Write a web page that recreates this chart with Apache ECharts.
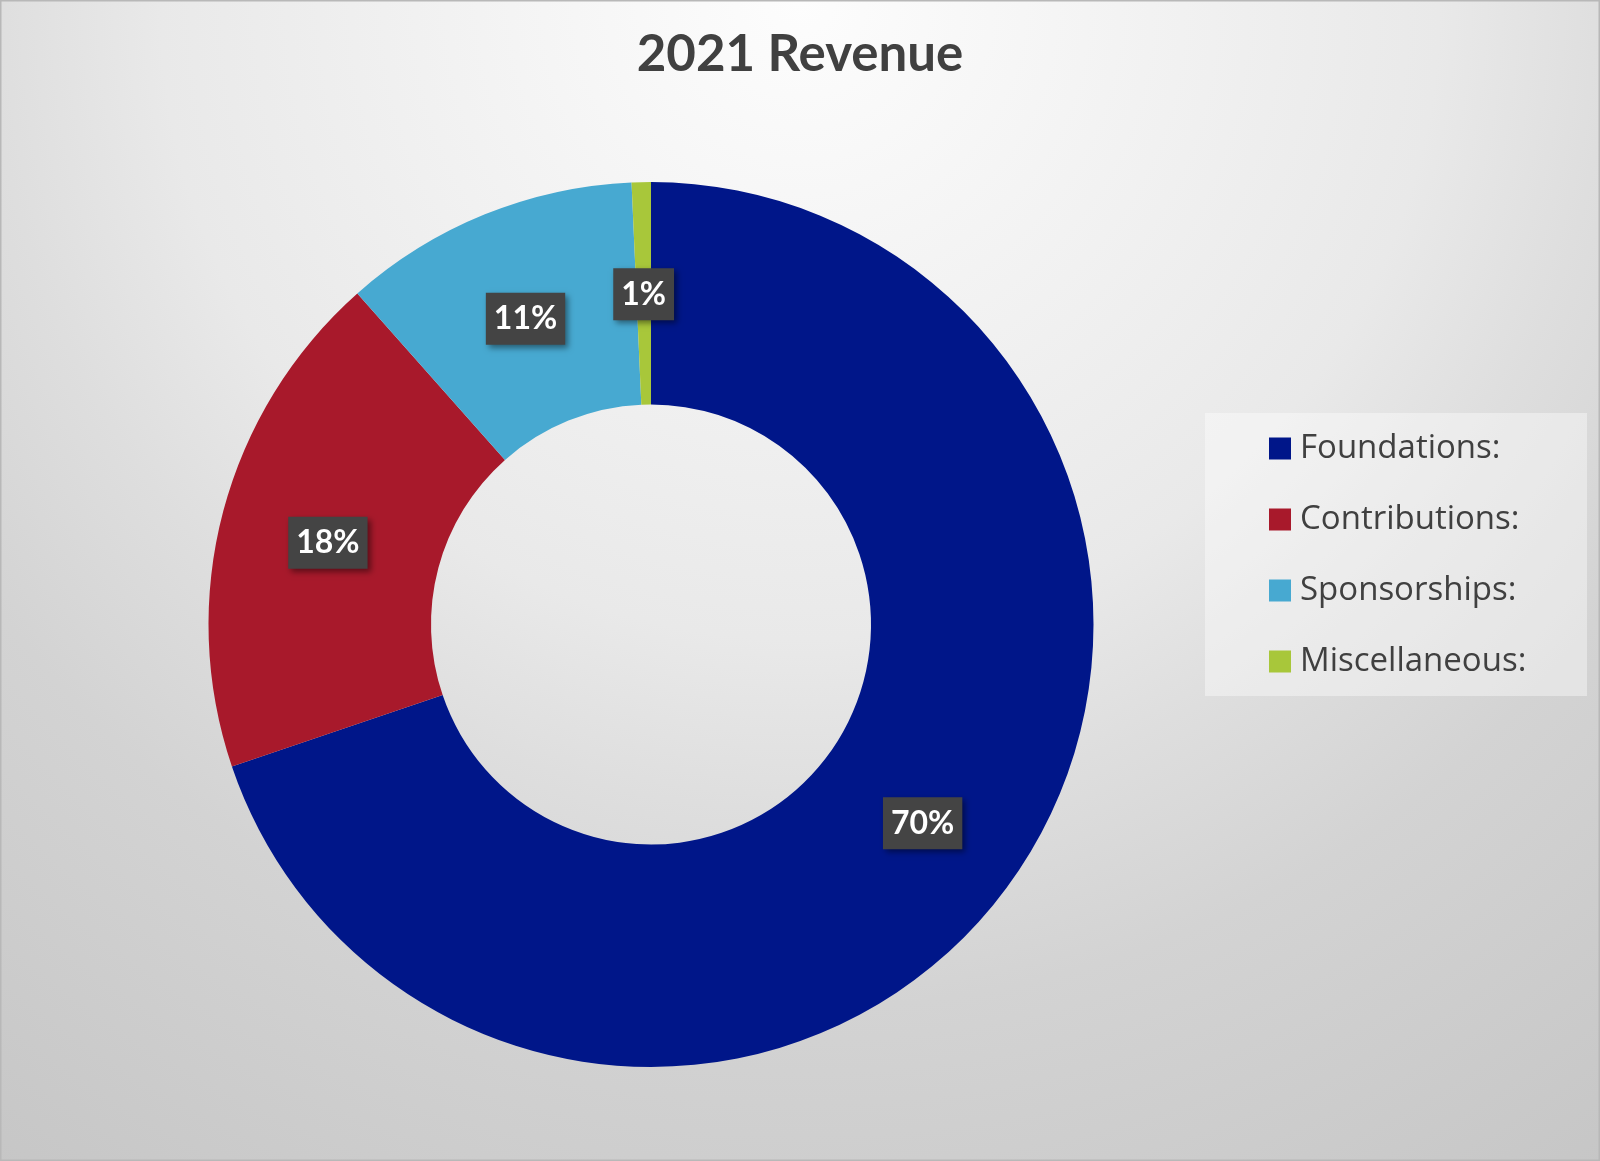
<!DOCTYPE html>
<html>
<head>
<meta charset="utf-8">
<script src="https://cdn.jsdelivr.net/npm/echarts@6/dist/echarts.min.js"></script>
<style>
html,body{margin:0;padding:0;}
#chart{width:1600px;height:1161px;}
</style>
</head>
<body>
<div id="chart"></div>
<script>
const categories = ['Foundations:', 'Contributions:', 'Sponsorships:', 'Miscellaneous:'];
const shares = [69.8, 18.65, 10.85, 0.7];
const colors = ['#001689', '#a8192b', '#47a9d1', '#a8c73a'];
const titleText = '2021 Revenue';

const chart = echarts.init(document.getElementById('chart'));
const option = {
  animation: false,
  color: colors,
  title: {
    text: titleText,
    left: 'center',
    top: 29,
    padding: 0,
    textStyle: { fontFamily: 'Lato', fontWeight: 'bold', fontSize: 51, color: '#404040' }
  },
  graphic: [
    {
      type: 'rect', z: -10, silent: true,
      shape: { x: 0, y: 0, width: 1600, height: 1161 },
      style: {
        fill: new echarts.graphic.RadialGradient(800, 0, 1420, [
          { offset: 0, color: '#fdfdfd' },
          { offset: 0.45, color: '#e9e9e9' },
          { offset: 0.57, color: '#dedede' },
          { offset: 0.71, color: '#d3d3d3' },
          { offset: 1, color: '#c6c6c6' }
        ], true),
        stroke: '#b8b8b8', lineWidth: 3
      }
    },
    {
      type: 'rect', z: -5, silent: true,
      shape: { x: 1205, y: 413, width: 382, height: 283 },
      style: { fill: 'rgba(255,255,255,0.4)' }
    }
  ],
  legend: {
    orient: 'vertical',
    left: 1269,
    top: 432,
    padding: 0,
    itemWidth: 22,
    itemHeight: 22,
    itemGap: 38,
    icon: 'rect',
    selectedMode: false,
    data: categories,
    textStyle: { fontFamily: 'Open Sans', fontSize: 33, color: '#404040', lineHeight: 22, height: 22, padding: [0, 0, 0, 4] }
  },
  series: [{
    type: 'pie',
    center: [651, 624.5],
    radius: [220, 442.5],
    startAngle: 90,
    clockwise: true,
    percentPrecision: 0,
    avoidLabelOverlap: false,
    itemStyle: { borderWidth: 0 },
    label: {
      show: true,
      position: 'inside',
      formatter: '{d}%',
      offset: [0, 4],
      fontFamily: 'Lato',
      fontWeight: 'bold',
      fontSize: 32,
      lineHeight: 32,
      color: '#ffffff',
      backgroundColor: '#444444',
      padding: [10, 8],
      shadowColor: 'rgba(0,0,0,0.45)',
      shadowBlur: 6,
      shadowOffsetX: 3,
      shadowOffsetY: 3
    },
    labelLine: { show: false },
    emphasis: { disabled: true },
    data: categories.map((name, i) => ({ name: name, value: shares[i] }))
  }]
};
chart.setOption(option);
</script>
</body>
</html>
